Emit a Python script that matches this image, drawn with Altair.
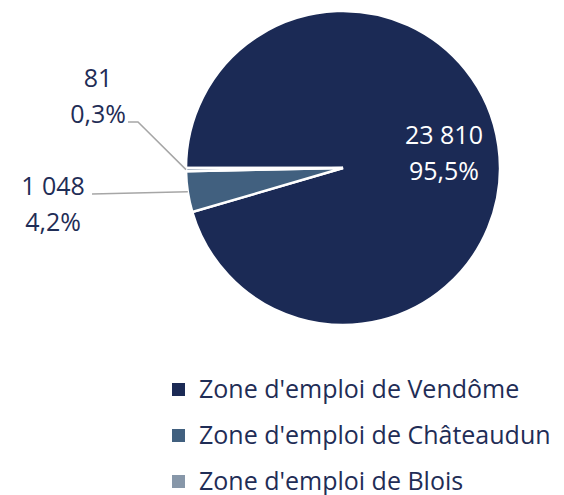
import math
import altair as alt
import numpy as np
import pandas as pd

# ---- data ----
categories = ["Zone d'emploi de Vendôme", "Zone d'emploi de Châteaudun", "Zone d'emploi de Blois"]
values = [23810, 1048, 81]
value_labels = ["23 810", "1 048", "81"]
pct_labels = ["95,5%", "4,2%", "0,3%"]
colors = ["#1B2A55", "#41607F", "#8797A9"]

# ---- layout / style constants ----
W, H = 548, 487
CX, CY, R = 335, 160, 157
START = 1.5 * math.pi          # first slice starts at 9 o'clock
FONT = "Open Sans"
TEXT_COLOR = "#1F2D56"
LEADER_COLOR = "#A6A6A6"
INSIDE_R = 102
LINE_H = 36
# anchors of the outside labels (chart pixel coords) and leader elbows
OUT_LABEL = {1: (45, 197), 2: (90, 89)}
LEADER_START = {1: [(84, 186)], 2: [(120, 114), (130, 114)]}

df = pd.DataFrame({"cat": categories, "value": values, "order": list(range(len(values)))})

# slice mid angles from the data
tot = float(sum(values))
cum = np.concatenate([[0.0], np.cumsum(values)])
mid = START + 2 * math.pi * (cum[:-1] + cum[1:]) / 2 / tot


def polar(r, a):
    return CX + r * math.sin(a), CY - r * math.cos(a)


lab_rows = []
ix, iy = polar(INSIDE_R, mid[0])
lab_rows.append({"x": ix, "y": iy, "t": value_labels[0] + "\n" + pct_labels[0], "c": "white"})
for i, (lx, ly) in OUT_LABEL.items():
    lab_rows.append({"x": lx, "y": ly, "t": value_labels[i] + "\n" + pct_labels[i], "c": TEXT_COLOR})
labels_df = pd.DataFrame(lab_rows)

lead_rows = []
for i, pts in LEADER_START.items():
    ex, ey = polar(R, mid[i])
    allpts = pts + [(ex, ey)]
    for k, (px, py) in enumerate(allpts):
        lead_rows.append({"id": i, "k": k, "x": px, "y": py})
leaders_df = pd.DataFrame(lead_rows)

arcs = alt.Chart(df).mark_arc(outerRadius=R, stroke="white", strokeWidth=2.5).encode(
    theta=alt.Theta("value:Q", stack=True, scale=alt.Scale(range=[START, START + 2 * math.pi])),
    color=alt.Color(
        "cat:N",
        scale=alt.Scale(domain=categories, range=colors),
        sort=categories,
        legend=alt.Legend(
            orient="none", legendX=158, legendY=369, title=None,
            symbolType="square", symbolSize=170, symbolStrokeWidth=0,
            labelFont=FONT, labelFontSize=25, labelColor=TEXT_COLOR,
            labelOffset=8, rowPadding=20, labelLimit=500,
        ),
    ),
    order=alt.Order("order:Q"),
    x=alt.value(CX),
    y=alt.value(CY),
)

leaders = alt.Chart(leaders_df).mark_line(color=LEADER_COLOR, strokeWidth=1.5).encode(
    x=alt.X("x:Q", scale=None),
    y=alt.Y("y:Q", scale=None),
    detail="id:N",
    order="k:Q",
)

texts = alt.Chart(labels_df).mark_text(
    font=FONT, fontSize=25, align="center", baseline="middle",
    lineBreak="\n", lineHeight=LINE_H, dy=-LINE_H / 2,
).encode(
    x=alt.X("x:Q", scale=None),
    y=alt.Y("y:Q", scale=None),
    text="t:N",
    color=alt.Color("c:N", scale=None),
)

chart = alt.layer(arcs, leaders, texts).properties(
    width=W, height=H, padding=0, autosize=alt.AutoSizeParams(type="none")
).configure_view(stroke=None)

chart.save("out.html", embed_options={"renderer": "svg", "actions": False})
